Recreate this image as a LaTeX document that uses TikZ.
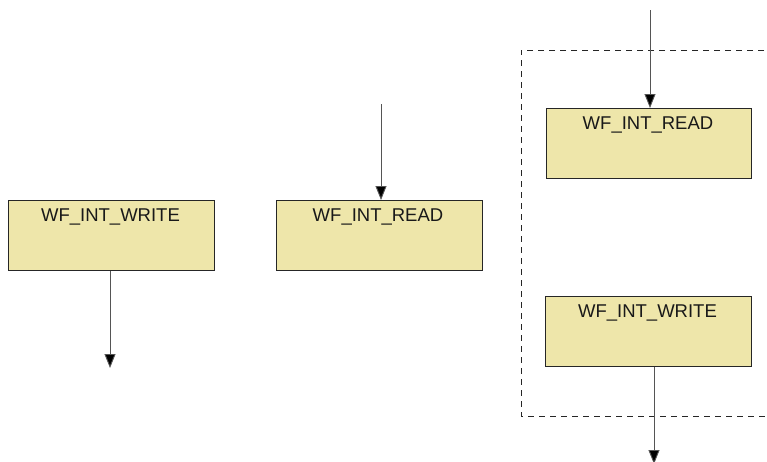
\documentclass[tikz,border=0pt]{standalone}
\usepackage{fontspec}
\setmainfont{Liberation Sans}
\usetikzlibrary{arrows.meta}
\definecolor{boxfill}{RGB}{238,230,170}
\definecolor{linegray}{RGB}{85,85,85}
\tikzset{
  blk/.style={draw=black!85, line width=0.9pt, fill=boxfill, rectangle, anchor=north west,
    minimum width=206pt, minimum height=70pt, inner sep=0pt},
  lbl/.style={anchor=base, font=\fontsize{18.5}{21}\selectfont, text=black!90, inner sep=0pt},
  conn/.style={draw=linegray, line width=0.9pt, -{Triangle[length=14pt,width=11pt,fill=black]}},
  grp/.style={draw=black!85, line width=0.9pt, dash pattern=on 6pt off 5pt}
}
\begin{document}
\begin{tikzpicture}[x=1pt,y=-1pt]
\useasboundingbox (0,0) rectangle (767,461);
\fill[white] (0,0) rectangle (767,461);
% group
\draw[grp] (775,50) -- (521,50) -- (521,416) -- (775,416);
% boxes
\node[blk] (w1) at (8,200) {};
\node[lbl] (w1t) at (110.5,221) {WF\_INT\_WRITE};
\node[blk] (r1) at (276,200) {};
\node[lbl] (r1t) at (378,221) {WF\_INT\_READ};
\node[blk, minimum width=205pt] (r2) at (546,108) {};
\node[lbl] (r2t) at (648,129) {WF\_INT\_READ};
\node[blk] (w2) at (545,296) {};
\node[lbl] (w2t) at (647.5,317) {WF\_INT\_WRITE};
% free ends
\coordinate (e1) at (110,368);
\coordinate (s2) at (381,104);
\coordinate (s3) at (650,10);
\coordinate (e4) at (654,464);
% connectors
\draw[conn] (w1.south -| e1) -- (e1);
\draw[conn] (s2) -- (s2 |- r1.north);
\draw[conn] (s3) -- (s3 |- r2.north);
\draw[conn] (w2.south -| e4) -- (e4);
\end{tikzpicture}
\end{document}
